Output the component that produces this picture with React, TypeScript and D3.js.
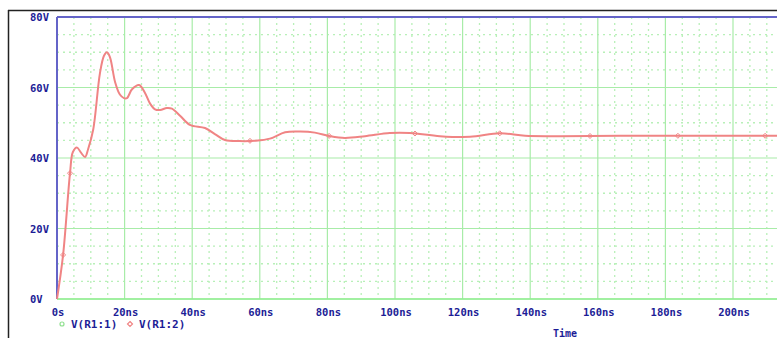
import React from "react";
import * as d3 from "d3";

const times = [0, 1.8, 3.85, 4.7, 5.9, 7.1, 8.3, 9.2, 10.7, 12.7, 13.9, 14.8, 15.7, 17.2, 18.6, 19.8, 20.7, 22.2, 24.3, 26, 27.5, 29, 30.5, 32.5, 34, 36.4, 39.3, 43.8, 46.7, 49.7, 54.1, 58.6, 63, 67.5, 71.9, 76.3, 80.8, 85.2, 91.1, 98.5, 104.4, 113.3, 122.2, 131, 138.5, 148.8, 166.6, 190, 220];
const volts = [0, 12.5, 35.7, 41.7, 43, 41.5, 40.3, 42.5, 48, 64, 69, 70, 68.5, 61.5, 58, 57, 57, 59.5, 60.7, 58.5, 55.5, 53.8, 53.6, 54.2, 54, 52, 49.4, 48.5, 46.8, 45.1, 44.8, 44.9, 45.5, 47.3, 47.5, 47.2, 46.2, 45.7, 46.2, 47.1, 47.1, 46.2, 46.0, 47, 46.3, 46.2, 46.3, 46.3, 46.3];
const markerTimes = [1.8, 3.85, 57.1, 80.5, 105.9, 131, 157.7, 183.7, 209.5];

const xTicks = [0, 20, 40, 60, 80, 100, 120, 140, 160, 180, 200];
const xTickLabels = ["0s", "20ns", "40ns", "60ns", "80ns", "100ns", "120ns", "140ns", "160ns", "180ns", "200ns"];
const yTicks = [0, 20, 40, 60, 80];
const yTickLabels = ["0V", "20V", "40V", "60V", "80V"];
const legendLabels = ["V(R1:1)", "V(R1:2)"];
const xTitle = "Time";

const W = 777, H = 338;
const left = 57, top = 17, bottom = 299;

export default function App() {
  const x = d3.scaleLinear().domain([0, 200]).range([left, 733]);
  const y = d3.scaleLinear().domain([0, 80]).range([bottom, top]);
  const xMax = 225;
  const right = x(xMax);

  const minorX = d3.range(0, xMax + 0.01, 5).filter((t) => t % 20 !== 0);
  const minorY = d3.range(0, 80.01, 5).filter((v) => v % 20 !== 0);

  const pts = times.map((t, i) => [t, volts[i]] as [number, number]);
  const line = d3
    .line<[number, number]>()
    .x((d) => x(d[0]))
    .y((d) => y(d[1]))
    .curve(d3.curveCatmullRom.alpha(0.5));
  const path = line(pts) || "";

  const interp = (t: number) => {
    for (let i = 1; i < times.length; i++) {
      if (t <= times[i]) {
        const f = (t - times[i - 1]) / (times[i] - times[i - 1]);
        return volts[i - 1] + f * (volts[i] - volts[i - 1]);
      }
    }
    return volts[volts.length - 1];
  };

  const textColor = "#1c1c96";
  const font = "'DejaVu Sans Mono', monospace";
  const minorColor = "#b8f0b8";
  const majorColor = "#a8eca8";
  const red = "#f08484";

  const diamond = (cx: number, cy: number, r: number) =>
    `M${cx},${cy - r}L${cx + r},${cy}L${cx},${cy + r}L${cx - r},${cy}Z`;

  return (
    <svg
      width={W}
      height={H}
      style={{ position: "absolute", left: 0, top: 0, background: "#fff" }}
    >
      <rect x={0} y={0} width={W} height={H} fill="#fff" />
      {/* outer frame */}
      <line x1={8} y1={10.5} x2={W} y2={10.5} stroke="#222" strokeWidth={1.5} />
      <line x1={8.5} y1={10} x2={8.5} y2={H} stroke="#222" strokeWidth={1.5} />

      {/* minor grid */}
      <g stroke={minorColor} strokeWidth={1.3} strokeDasharray="2,4">
        {minorX.map((t) => (
          <line key={"mx" + t} x1={x(t)} x2={x(t)} y1={top} y2={bottom} />
        ))}
        {minorY.map((v) => (
          <line key={"my" + v} x1={left} x2={right} y1={y(v)} y2={y(v)} />
        ))}
      </g>
      {/* major grid */}
      <g stroke={majorColor} strokeWidth={1.2}>
        {d3.range(20, xMax + 0.01, 20).map((t) => (
          <line key={"Mx" + t} x1={x(t)} x2={x(t)} y1={top} y2={bottom} />
        ))}
        {yTicks.map((v) => (
          <line key={"My" + v} x1={left} x2={right} y1={y(v)} y2={y(v)} />
        ))}
      </g>
      <line x1={left} x2={right} y1={bottom} y2={bottom} stroke="#90ee90" strokeWidth={1.6} />

      {/* plot border */}
      <line x1={left} x2={right} y1={top} y2={top} stroke="#6464c8" strokeWidth={2} />
      <line x1={left} x2={left} y1={top} y2={bottom} stroke="#6464c8" strokeWidth={2} />

      {/* curve */}
      <path d={path} fill="none" stroke={red} strokeWidth={2} />
      {markerTimes.map((t) => (
        <path key={"mk" + t} d={diamond(x(t), y(interp(t)), 2.5)} fill="none" stroke={red} strokeWidth={1} />
      ))}

      {/* y tick labels */}
      {yTicks.map((v, i) => (
        <text
          key={"yl" + v}
          x={30}
          y={y(v) + 4}
          fill={textColor}
          fontFamily={font}
          fontWeight="bold"
          fontSize={10.5}
        >
          {yTickLabels[i]}
        </text>
      ))}
      {/* x tick labels */}
      {xTicks.map((t, i) => (
        <text
          key={"xl" + t}
          x={x(t) + 1}
          y={316}
          textAnchor="middle"
          fill={textColor}
          fontFamily={font}
          fontWeight="bold"
          fontSize={10.5}
        >
          {xTickLabels[i]}
        </text>
      ))}

      {/* legend */}
      <circle cx={62} cy={324} r={2} fill="none" stroke="#90e090" strokeWidth={1.2} />
      <text x={71} y={328} fill={textColor} fontFamily={font} fontWeight="bold" fontSize={11}>
        {legendLabels[0]}
      </text>
      <path d={diamond(130, 324, 2.5)} fill="none" stroke={red} strokeWidth={1.2} />
      <text x={139} y={328} fill={textColor} fontFamily={font} fontWeight="bold" fontSize={11}>
        {legendLabels[1]}
      </text>

      <text x={565} y={337} textAnchor="middle" fill={textColor} fontFamily={font} fontWeight="bold" fontSize={10}>
        {xTitle}
      </text>
    </svg>
  );
}
